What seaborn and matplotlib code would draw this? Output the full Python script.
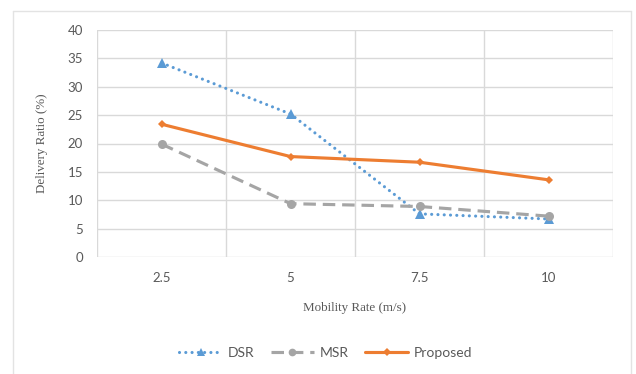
import matplotlib
matplotlib.use("Agg")
import matplotlib.pyplot as plt
from matplotlib.lines import Line2D
from matplotlib.ticker import FixedLocator
import seaborn as sns
import pandas as pd

# Mobility rates (m/s) and delivery ratios (%)
mobility = ["2.5", "5", "7.5", "10"]
dsr = [34.2, 25.2, 7.6, 6.7]
msr = [19.9, 9.4, 8.9, 7.2]
proposed = [23.4, 17.7, 16.7, 13.6]

series_names = ["DSR", "MSR", "Proposed"]
y_ticks = [0, 5, 10, 15, 20, 25, 30, 35, 40]

pos = list(range(len(mobility)))
frames = []
for name, vals in zip(series_names, [dsr, msr, proposed]):
    frames.append(pd.DataFrame({"pos": pos, "ratio": vals, "protocol": name}))
df = pd.concat(frames, ignore_index=True)

sns.set_theme(style="white")
plt.rcParams["font.family"] = ["Lato", "DejaVu Sans"]

fig = plt.figure(figsize=(6.36, 3.74), dpi=100)
ax = fig.add_axes([97 / 636, 1 - 257 / 374, 516 / 636, 227 / 374])

grid_c = "#D9D9D9"
text_c = "#595959"

styles = {
    "DSR": dict(color="#5B9BD5", linestyle=(0, (0.01, 2.0)), dash_capstyle="round",
                marker="^", markersize=6.5, linewidth=2.25),
    "MSR": dict(color="#A5A5A5", linestyle=(0, (4.0, 2.2)), dash_capstyle="butt",
                marker="o", markersize=6.5, linewidth=2.25),
    "Proposed": dict(color="#ED7D31", linestyle="-", marker="D", markersize=4.5,
                     linewidth=2.25),
}

for name in series_names:
    sub = df[df["protocol"] == name]
    st = styles[name]
    sns.lineplot(data=sub, x="pos", y="ratio", ax=ax, label=name,
                 markeredgewidth=0, zorder=3, **st)

ax.set_xlim(-0.5, len(mobility) - 0.5)
ax.set_ylim(0, 40)
ax.set_yticks(y_ticks)
ax.set_xticks(pos)
ax.set_xticklabels(mobility)
bounds = [p + 0.5 for p in range(-1, len(mobility))]
ax.xaxis.set_minor_locator(FixedLocator(bounds))

ax.grid(False)
for yv in y_ticks:
    ax.axhline(yv, color=grid_c, lw=1.0, zorder=1)
for xv in bounds:
    ax.axvline(xv, color=grid_c, lw=1.0, zorder=1)
for sp in ax.spines.values():
    sp.set_visible(False)

ax.tick_params(axis="both", which="major", length=0, labelsize=9.5, colors=text_c)
ax.tick_params(axis="y", pad=10)
ax.tick_params(axis="x", pad=11)
ax.tick_params(axis="x", which="minor", length=5, width=1.0, color=grid_c, direction="out")

ax.set_xlabel("Mobility Rate (m/s)", family="Liberation Serif", fontsize=9.4, color=text_c)
ax.set_ylabel("Delivery Ratio (%)", family="Liberation Serif", fontsize=9.4, color=text_c)
ax.xaxis.set_label_coords(0.5, -0.20)
ax.yaxis.set_label_coords(-0.095, 0.5)

handles, labels = ax.get_legend_handles_labels()
if ax.get_legend() is not None:
    ax.get_legend().remove()
fig.legend(handles, labels, loc="center", bbox_to_anchor=(0.512, 1 - 353 / 374),
           ncol=3, frameon=False, fontsize=10, labelcolor=text_c,
           handlelength=3.1, handletextpad=0.4, columnspacing=1.2, numpoints=1,
           markerscale=0.85)

# chart frame
fl, fr, ft = 13 / 636, 631 / 636, 1 - 11 / 374
for xs, ys in [([fl, fr], [ft, ft]), ([fl, fl], [0, ft]), ([fr, fr], [0, ft])]:
    fig.add_artist(Line2D(xs, ys, transform=fig.transFigure, color="#E3E3E3", lw=1.0))

fig.savefig("out.png", dpi=100, facecolor="white")
